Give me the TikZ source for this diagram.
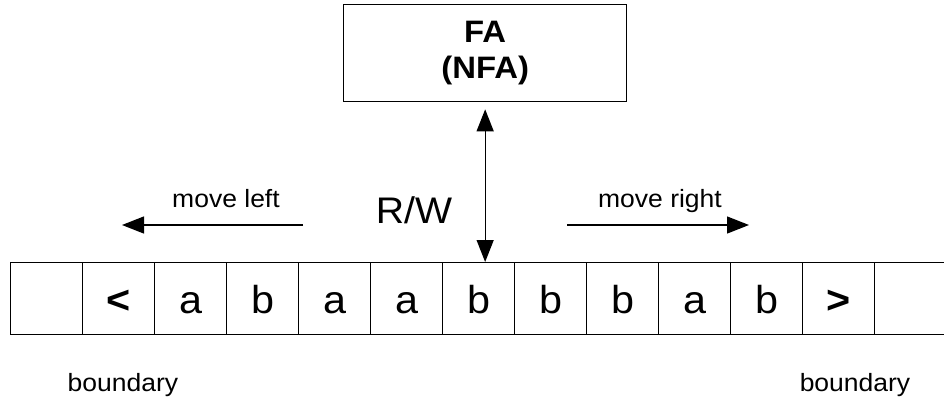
\documentclass[tikz,border=0pt]{standalone}
\usepackage{fontspec}
\setmainfont[FakeStretch=1.06]{Liberation Sans}
\usetikzlibrary{arrows.meta}
\begin{document}
\begin{tikzpicture}[x=1pt,y=-1pt,
  cellbox/.style={draw=black,line width=1.3pt,minimum width=72pt,minimum height=72pt,inner sep=0pt,text height=29pt,text depth=0pt,anchor=north west,font=\fontsize{39}{40}\selectfont},
  fabox/.style={draw=black,line width=1.3pt,minimum width=283pt,minimum height=97pt,inner sep=0pt,anchor=north west,align=center,font=\bfseries\fontsize{31}{36}\selectfont},
  lbl/.style={inner sep=0pt,anchor=base,font=\fontsize{25}{27}\selectfont},
  arr/.style={line width=1.3pt,-{Triangle[length=22pt,width=17pt]}},
  darr/.style={line width=1.3pt,{Triangle[length=22pt,width=17pt]}-{Triangle[length=22pt,width=17pt]}}]
\useasboundingbox (0,0) rectangle (944,400);
\clip (0,0) rectangle (944,400);
\node[fabox] (fa) at (343,4) {FA\\(NFA)};
\foreach \t [count=\i from 0] in {{},{\bfseries <},a,b,a,a,b,b,b,a,b,{\bfseries >},{}} {
  \node[cellbox] (c\i) at (10+72*\i,262) {\t};
}
\draw[darr,shorten <=7pt] (fa.south) -- (fa.south |- c6.north);
\node[lbl,font=\fontsize{37}{39}\selectfont] (rw) at (414,223) {R/W};
\node[lbl] (ml) at (226,207) {move left};
\node[lbl] (mr) at (660,207) {move right};
\coordinate (mlfrom) at (303,225);
\coordinate (mlto) at (122,225);
\coordinate (mrfrom) at (567,225);
\coordinate (mrto) at (749,225);
\draw[arr] (mlfrom) -- (mlto);
\draw[arr] (mrfrom) -- (mrto);
\node[lbl] (bl) at (123,391) {boundary};
\node[lbl] (br) at (855,391) {boundary};
\end{tikzpicture}
\end{document}
